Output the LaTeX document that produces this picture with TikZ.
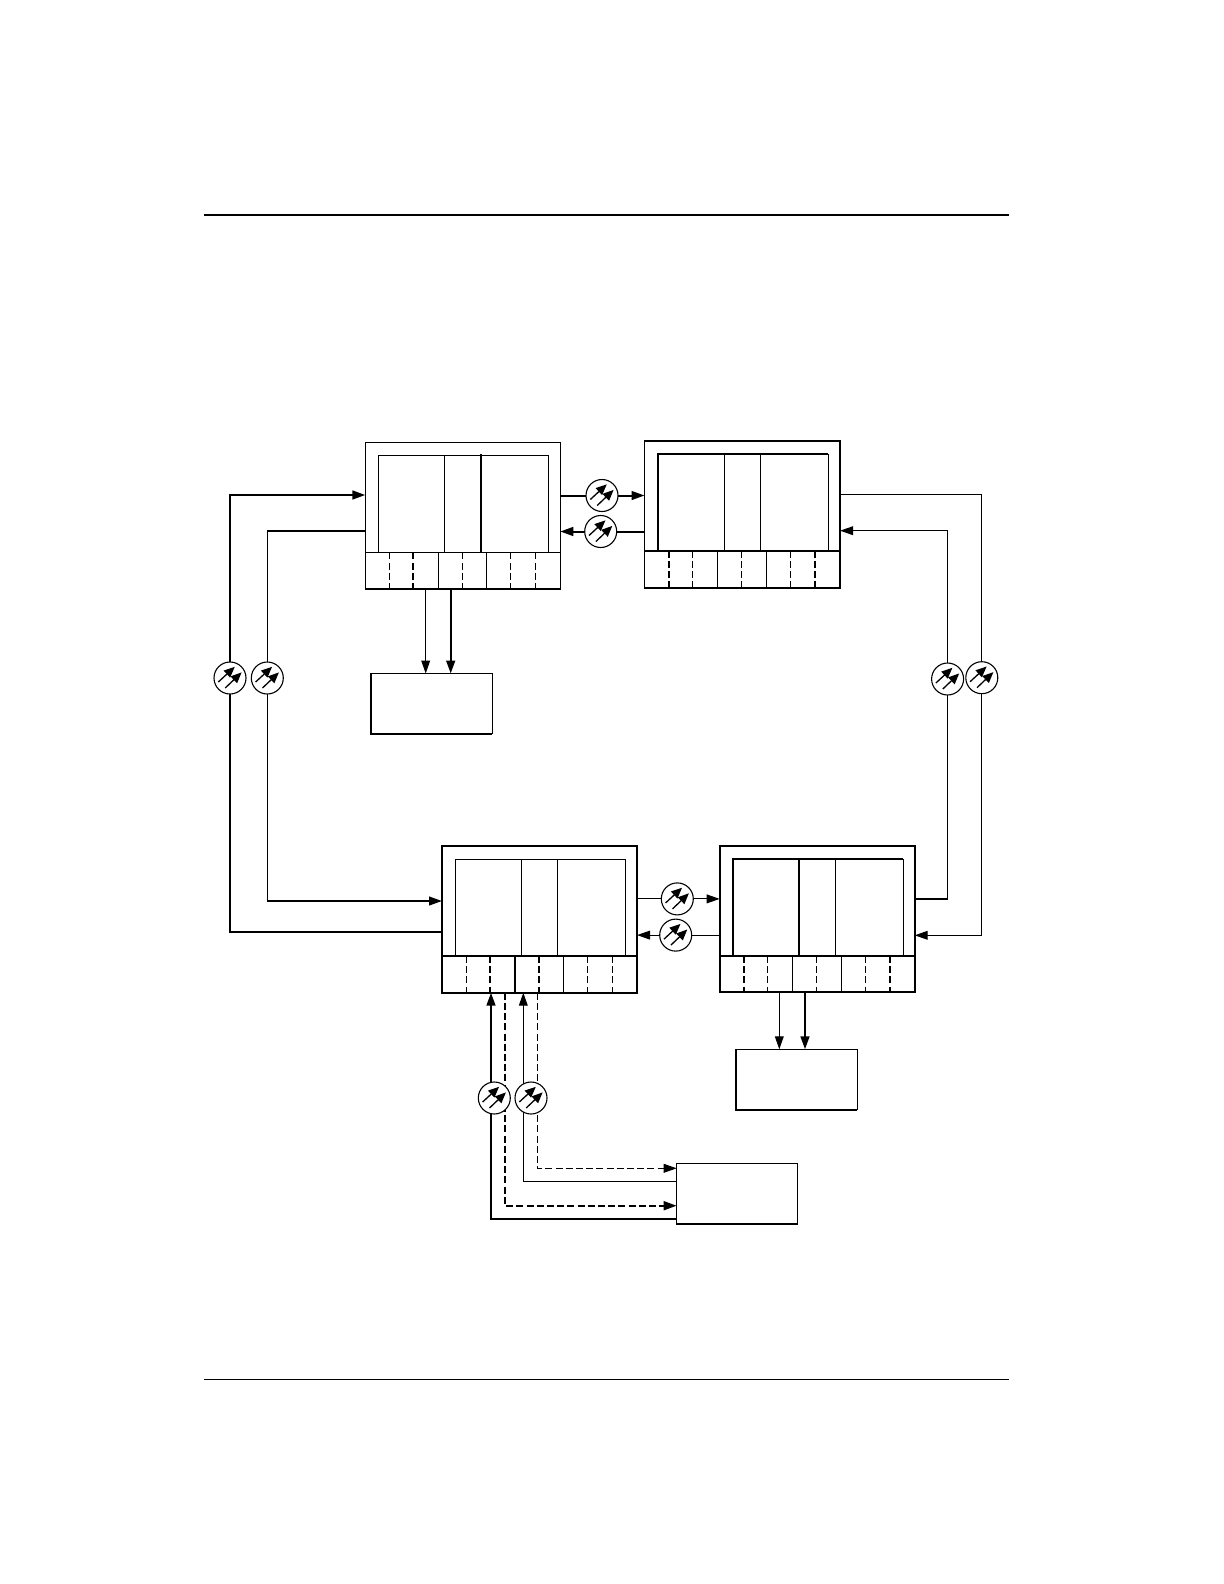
\documentclass[tikz,border=0pt]{standalone}
\usepackage{tikz}
\usetikzlibrary{arrows.meta,backgrounds}
\tikzset{
  thinline/.style={line width=0.55bp},
  midline/.style={line width=0.85bp},
  heavyline/.style={line width=1.1bp},
  thindash/.style={thinline, dash pattern=on 3.5bp off 1.6bp},
  heavydash/.style={heavyline, dash pattern=on 3.5bp off 1.6bp},
  tip/.style={-{Triangle[length=6.5bp,width=4.4bp]}},
  thinflow/.style={thinline, tip},
  midflow/.style={midline, tip},
  heavyflow/.style={heavyline, tip},
  unitbox/.style={draw, fill=white, thinline, anchor=north west, minimum width=97.5bp, minimum height=73.2bp, inner sep=0pt, outer sep=0pt},
  unitboxbold/.style={unitbox, midline},
  termbox/.style={draw, fill=white, thinline, anchor=north west, minimum width=60.7bp, minimum height=30.2bp, inner sep=0pt, outer sep=0pt},
  phasedev/.style={circle, draw, fill=white, thinline, minimum size=16bp, inner sep=0pt, outer sep=0pt,
    path picture={
      \draw[line width=0.65bp, -{Triangle[length=5.4bp,width=4.6bp]}] ([shift={(-5.85bp,-2bp)}]path picture bounding box.center) -- ([shift={(2.4bp,5.6bp)}]path picture bounding box.center);
      \draw[line width=0.65bp, -{Triangle[length=5.4bp,width=4.6bp]}] ([shift={(-2.4bp,-5bp)}]path picture bounding box.center) -- ([shift={(5.8bp,2.8bp)}]path picture bounding box.center);
    }}
}
\begin{document}
\begin{tikzpicture}[x=0.5bp,y=-0.5bp]
  \useasboundingbox (0,0) rectangle (1224,1584);
  % page rules
  \draw[heavyline] (204,215) -- (1009,215);
  \draw[thinline] (204,1379.3) -- (1009,1379.3);
  % four units
  \node[unitbox] (tlunit) at (365.3,442.7) {};
  \node[unitboxbold, minimum width=97.8bp, minimum height=73.5bp] (trunit) at (644.5,441) {};
  \node[unitboxbold] (blunit) at (442,846.3) {};
  \node[unitboxbold] (brunit) at (719.7,845.7) {};
  % terminal boxes
  \node[termbox] (tlterm) at (370.7,673.5) {};
  \node[termbox] (brterm) at (735.8,1049.3) {};
  \node[termbox, minimum width=60.3bp] (addterm) at (676.7,1163.7) {};
  % phase devices
  \node[phasedev] (phtop) at (602,495.5) {};
  \node[phasedev] (phtopb) at (600.7,531.5) {};
  \node[phasedev] (phleft) at (230,678) {};
  \node[phasedev] (phleftb) at (267.3,678) {};
  \node[phasedev] (phright) at (947.6,679) {};
  \node[phasedev] (phrightb) at (981.8,677.7) {};
  \node[phasedev] (phmid) at (677.3,898.9) {};
  \node[phasedev] (phmidb) at (675.7,935.1) {};
  \node[phasedev] (phlow) at (494.3,1098) {};
  \node[phasedev] (phlowb) at (531,1098) {};
  % top left unit
  \draw[thinline] (378.3,552.3) |- (548.3,455.3) -- (548.3,552.3);
  \draw[thinline] (444.3,455.3) -- (444.3,552.3);
  \draw[heavyline] (481,454) -- (481,552.3);
  \draw[thinline] (365.3,552.3) -- (560.3,552.3);
  \foreach \x in {438.3,486.3} \draw[thinline] (\x,552.3) -- (\x,588.7);
  \foreach \x in {389.3,462.3,510.3,535.7} \draw[thindash] (\x,552.3) -- (\x,588.7);
  \draw[heavydash] (412.7,552.3) -- (412.7,588.7);
  \draw[heavyline] (365.3,589) -- (560.3,589);
  % top right unit
  \draw[heavyline] (658,550.7) |- (828.3,454);
  \draw[thinline] (828.3,454) -- (828.3,550.7);
  \foreach \x in {724.3,760.3} \draw[thinline] (\x,454) -- (\x,550.7);
  \draw[midline] (644.5,550.7) -- (840,550.7);
  \foreach \x in {717.3,766.3} \draw[thinline] (\x,550.7) -- (\x,588);
  \foreach \x in {692.3,741.3,790.3} \draw[thindash] (\x,550.7) -- (\x,588);
  \foreach \x in {669,815} \draw[heavydash] (\x,550.7) -- (\x,588);
  % bottom left unit
  \draw[thinline] (455.3,956) |- (625.3,859.4) -- (625.3,956);
  \foreach \x in {521.3,557.3} \draw[thinline] (\x,859.4) -- (\x,956);
  \draw[thinline] (442,956) -- (637,956);
  \draw[thinline] (563.3,956) -- (563.3,992.7);
  \draw[heavyline] (515,956) -- (515,992.7);
  \foreach \x in {466.3,587.3,612.3} \draw[thindash] (\x,956) -- (\x,992.7);
  \foreach \x in {490,539} \draw[heavydash] (\x,956) -- (\x,992.7);
  % bottom right unit
  \draw[heavyline] (733.3,956) |- (903.3,859);
  \draw[thinline] (903.3,859) -- (903.3,956);
  \draw[heavyline] (799,859) -- (799,956);
  \draw[thinline] (835.7,859) -- (835.7,956);
  \draw[midline] (719.7,956) -- (914.7,956);
  \foreach \x in {792.3,841.3} \draw[thinline] (\x,956) -- (\x,992.9);
  \foreach \x in {767.3,816.3,865.3} \draw[thindash] (\x,956) -- (\x,992.9);
  \foreach \x in {744,890} \draw[heavydash] (\x,956) -- (\x,992.9);
  % heavier sides of the terminal boxes
  \draw[midline] (tlterm.north west) -- (tlterm.south west) -- (tlterm.south east);
  \draw[midline] (brterm.north west) -- (brterm.south west) -- (brterm.south east);
  \draw[midline] (addterm.south west) -- (addterm.south east);
  % connectors go under the boxes and phase devices
  \begin{scope}[on background layer]
    \draw[heavyflow, line width=1bp] (tlunit.east |- phtop) -- (phtop) -- (trunit.west |- phtop);
    \draw[heavyflow, line width=1bp] (trunit.west |- phtopb) -- (phtopb) -- (tlunit.east |- phtopb);
    \draw[thinflow] (blunit.east |- phmid) -- (phmid) -- (brunit.west |- phmid);
    \draw[thinflow] (brunit.west |- phmidb) -- (phmidb) -- (blunit.east |- phmidb);
    % left side
    \draw[heavyline] (blunit.west |- 0,931.7) -| (phleft);
    \draw[heavyflow] (phleft) |- (tlunit.west |- 0,495);
    \draw[thinline] (tlunit.west |- 0,531) -| (phleftb);
    \draw[thinline] (phleftb) -- (phleftb |- 0,901);
    \draw[midflow] (phleftb |- 0,901) -- (blunit.west |- 0,901);
    % right side
    \draw[thinline] (trunit.east |- 0,494.3) -| (phrightb);
    \draw[thinflow] (phrightb) |- (brunit.east |- 0,935.3);
    \draw[heavyline] (brunit.east |- 0,899.3) -- (phright |- 0,899.3);
    \draw[thinline] (phright |- 0,899.3) -- (phright);
    \draw[thinflow] (phright) |- (trunit.east |- 0,530.7);
    % down to the terminal boxes
    \draw[thinflow] (tlunit.south -| 425.7,0) -- (tlterm.north -| 425.7,0);
    \draw[heavyflow] (tlunit.south -| 450.7,0) -- (tlterm.north -| 450.7,0);
    \draw[thinflow] (brunit.south -| 779.3,0) -- (brterm.north -| 779.3,0);
    \draw[heavyflow] (brunit.south -| 805,0) -- (brterm.north -| 805,0);
    % add and drop pairs
    \draw[heavyflow] (addterm.west |- 0,1218.7) -| (blunit.south -| 491,0);
    \draw[thinflow] (addterm.west |- 0,1181.3) -| (blunit.south -| 523.3,0);
    \draw[heavydash, tip] (blunit.south -| 505,0) |- (addterm.west |- 0,1205.7);
    \draw[thindash, tip] (blunit.south -| 537.3,0) |- (addterm.west |- 0,1168.3);
  \end{scope}
\end{tikzpicture}
\end{document}
